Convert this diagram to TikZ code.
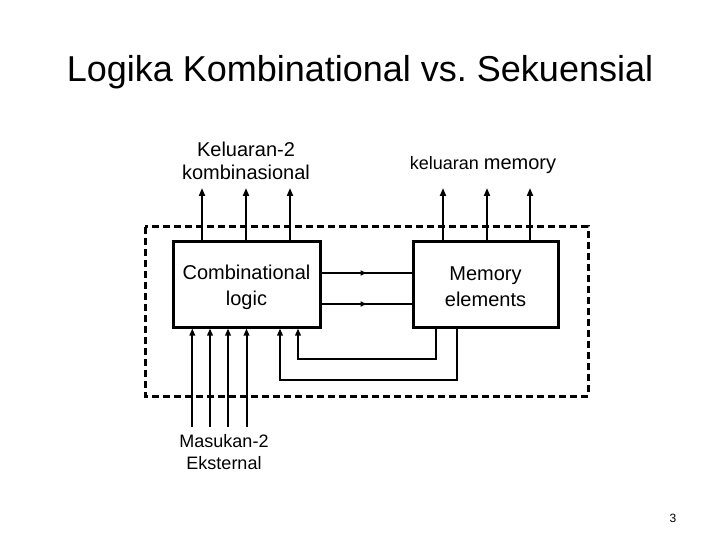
\documentclass[tikz,border=0pt]{standalone}
\usepackage{fontspec}
\setmainfont{Liberation Sans}
\usetikzlibrary{arrows.meta,decorations.markings}
\tikzset{
  blockbox/.style={draw, line width=3pt, inner sep=0pt},
  blocktext/.style={align=center, inner sep=0pt, font=\fontsize{20}{26}\selectfont},
  outarrow/.style={line width=2pt, -{Triangle[length=8pt,width=6pt]}},
  inarrow/.style={line width=2pt, -{Triangle[length=7pt,width=5.5pt]}},
  fbline/.style={line width=2pt, -{Triangle[length=7pt,width=5.5pt]}},
  midarrow/.style={line width=2pt, postaction={decorate}, decoration={markings, mark=at position 0.5 with {\arrow{Triangle[length=6pt,width=5pt]}}}},
  dashbox/.style={draw, line width=3pt, dash pattern=on 7pt off 4pt},
  lbl/.style={align=center, inner sep=0pt}
}
\begin{document}
\begin{tikzpicture}[x=1pt,y=-1pt]
\useasboundingbox[fill=white] (0,0) rectangle (720,540);
% title
\node[lbl, anchor=base, font=\fontsize{36}{40}\selectfont] (title) at (360,82) {Logika Kombinational vs.\ Sekuensial};
% dashed outline
\draw[dashbox] (145,227) rectangle (588,396);
% blocks
\node[blockbox, minimum width=147pt, minimum height=86pt] (comb) at (246.5,284) {};
\node[blockbox, minimum width=145pt, minimum height=86pt] (mem) at (485.5,284) {};
\node[blocktext, yshift=-3pt] (combt) at (comb.center) {Combinational\\logic};
\node[blocktext, yshift=-3pt] (memt) at (mem.center) {Memory\\elements};
% labels
\node[lbl, anchor=base, font=\fontsize{20}{23}\selectfont] (lco) at (246,180) {Keluaran-2\\kombinasional};
\node[lbl, anchor=base] (lmo) at (483,170) {\fontsize{18}{22}\selectfont keluaran \fontsize{20}{22}\selectfont memory};
\node[lbl, anchor=base, font=\fontsize{18}{22}\selectfont] (lin) at (224,469) {Masukan-2\\Eksternal};
\node[lbl, anchor=base, font=\fontsize{12}{14}\selectfont] (pg) at (673,522) {3};
% output arrow tips
\coordinate (o1) at (202,188);
\coordinate (o2) at (246,188);
\coordinate (o3) at (290,188);
\coordinate (o4) at (443,188);
\coordinate (o5) at (487,188);
\coordinate (o6) at (530,188);
\foreach \c in {o1,o2,o3} \draw[outarrow] (\c |- comb.north) -- (\c);
\foreach \c in {o4,o5,o6} \draw[outarrow] (\c |- mem.north) -- (\c);
% inputs
\coordinate (i1) at (192.3,427);
\coordinate (i2) at (210,427);
\coordinate (i3) at (228,427);
\coordinate (i4) at (246.5,427);
\foreach \c in {i1,i2,i3,i4} \draw[inarrow] (\c) -- (\c |- comb.south);
% combinational -> memory
\coordinate (h1) at (0,273);
\coordinate (h2) at (0,304);
\draw[midarrow] (comb.east |- h1) -- (mem.west |- h1);
\draw[midarrow] (comb.east |- h2) -- (mem.west |- h2);
% feedback
\coordinate (f1) at (436,359);
\coordinate (f1e) at (298,359);
\coordinate (f2) at (457,380);
\coordinate (f2e) at (280,380);
\draw[fbline] (mem.south -| f1) -- (f1) -- (f1e) -- (f1e |- comb.south);
\draw[fbline] (mem.south -| f2) -- (f2) -- (f2e) -- (f2e |- comb.south);
\end{tikzpicture}
\end{document}
